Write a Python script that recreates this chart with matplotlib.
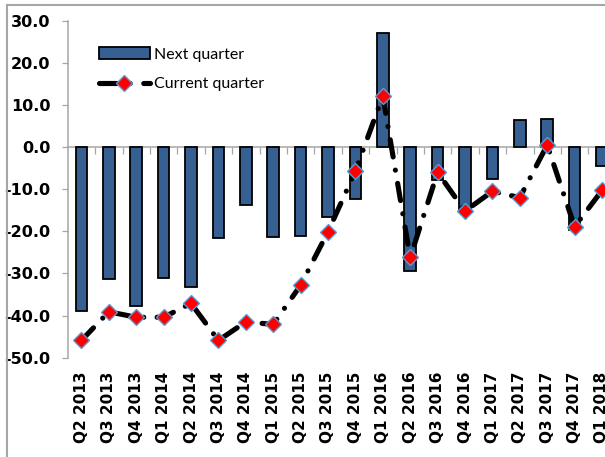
import numpy as np
import matplotlib
matplotlib.use("Agg")
import matplotlib.pyplot as plt
from matplotlib.lines import Line2D

# quarters and survey balances
quarters = ["Q2 2013", "Q3 2013", "Q4 2013", "Q1 2014", "Q2 2014", "Q3 2014",
            "Q4 2014", "Q1 2015", "Q2 2015", "Q3 2015", "Q4 2015", "Q1 2016",
            "Q2 2016", "Q3 2016", "Q4 2016", "Q1 2017", "Q2 2017", "Q3 2017",
            "Q4 2017", "Q1 2018"]
next_q = [-39.0, -31.4, -37.8, -31.0, -33.1, -21.5, -13.7, -21.3, -21.0, -16.7,
          -12.3, 27.0, -29.4, -7.9, -14.9, -7.5, 6.5, 6.7, -19.8, -4.4]
current_q = [-45.9, -39.1, -40.4, -40.4, -37.1, -45.9, -41.5, -42.1, -32.8, -20.1,
             -5.7, 12.1, -26.2, -6.0, -15.2, -10.5, -12.0, 0.5, -18.9, -10.3]
yticks = [-50, -40, -30, -20, -10, 0, 10, 20, 30]

W, H = 605, 457
fig = plt.figure(figsize=(W / 100, H / 100), dpi=100)
# axes runs past the right edge of the picture (chart is cropped there)
ax = fig.add_axes([67.7 / W, 1 - 357.7 / H, (615.7 - 67.7) / W, 337.0 / H])

x = np.arange(len(quarters))
grey = "#A6A6A6"

bars = ax.bar(x, next_q, width=0.43, color="#376092", edgecolor="black",
              linewidth=1.3, label="Next quarter", zorder=2)
line, = ax.plot(x, current_q, color="black", linewidth=3.7,
                linestyle=(0, (3.4, 2.6, 0.01, 2.6)), dash_capstyle="round",
                marker="D", markersize=8.4, markerfacecolor="red",
                markeredgecolor="#5B9BD5", markeredgewidth=1.0,
                label="Current quarter", zorder=3)

ax.set_xlim(-0.5, len(quarters) - 0.5)
ax.set_ylim(-50, 30)

for s in ["top", "right", "bottom"]:
    ax.spines[s].set_visible(False)
ax.spines["left"].set_color(grey)
ax.spines["left"].set_linewidth(1.1)

ax.set_yticks(yticks)
ax.set_yticklabels([f"{v:.1f}" for v in yticks], fontsize=11.5, fontweight="bold")
ax.tick_params(axis="y", direction="out", length=4.3, width=0.9, color=grey, pad=8)

ax.set_xticks(x)
ax.set_xticklabels(quarters, rotation=90, fontsize=11, fontweight="bold",
                   va="top", ha="center")
ax.tick_params(axis="x", length=0, pad=10)

# horizontal category axis drawn at zero
zero_pos = (0 - (-50)) / (30 - (-50))
sec = ax.secondary_xaxis(zero_pos)
sec.set_xticks(np.arange(0.5, len(quarters) - 0.5, 1))
sec.tick_params(axis="x", direction="in", length=5, width=0.9, color=grey,
                labeltop=False, labelbottom=False)
for s in sec.spines.values():
    s.set_color(grey)
    s.set_linewidth(1.1)

leg = ax.legend([bars, line], ["Next quarter", "Current quarter"],
                loc="upper left", bbox_to_anchor=(0.03, 0.965), frameon=False,
                prop={"family": "Lato", "size": 11.5}, handlelength=3.2,
                handleheight=0.8, handletextpad=0.3, labelspacing=0.95)

# chart frame (only top and left edges are inside the picture)
fig.add_artist(Line2D([7 / W, 1], [1 - 5 / H, 1 - 5 / H], color=grey, lw=1.5,
                      transform=fig.transFigure))
fig.add_artist(Line2D([7 / W, 7 / W], [0, 1 - 5 / H], color=grey, lw=1.5,
                      transform=fig.transFigure))

plt.savefig("out.png", dpi=100)
